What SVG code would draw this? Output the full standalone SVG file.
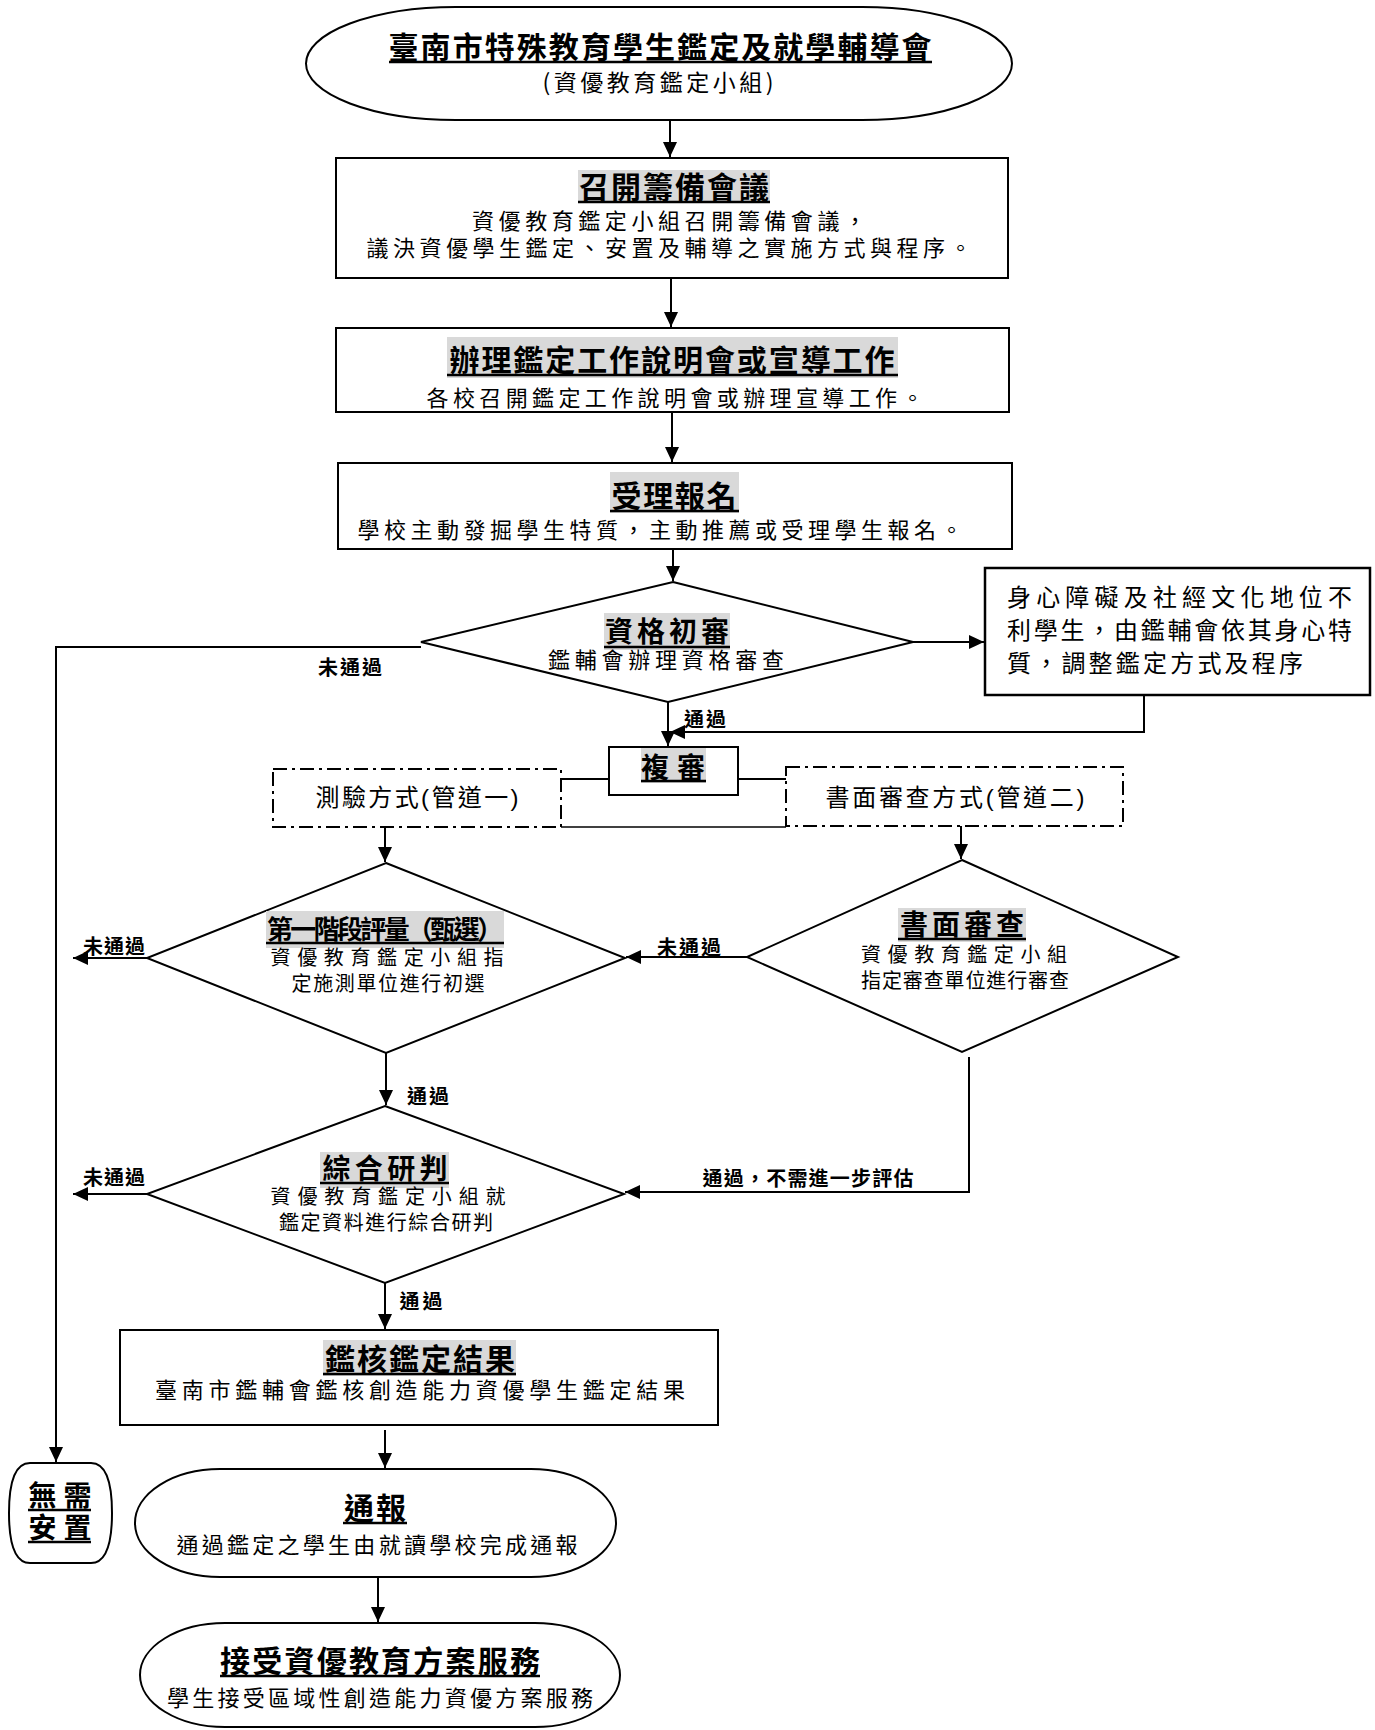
<svg xmlns="http://www.w3.org/2000/svg" width="1375" height="1730" viewBox="0 0 1375 1730">
<style>
.shape{fill:#fff;stroke:#000;stroke-width:2}
.dash{fill:none;stroke:#000;stroke-width:2;stroke-dasharray:14 5 3 5}
.ln{fill:none;stroke:#000;stroke-width:2}
.ul{stroke:#000;stroke-width:2.5}
.bg{fill:#d9d9d9}
text{font-family:"Noto Sans CJK TC","Noto Sans CJK SC",sans-serif;fill:#000;text-anchor:middle}
.h{font-weight:700}
.b{font-weight:400;font-size:22px}
.d{font-weight:400;font-size:20px}
.lb{font-weight:700;font-size:20px}
.s{font-family:"Liberation Sans","Noto Sans CJK TC",sans-serif;font-size:24px}
</style>
<defs>
<marker id="ar" markerUnits="userSpaceOnUse" markerWidth="16" markerHeight="16" refX="15" refY="8" orient="auto">
<path d="M0,1 L15,8 L0,15 z" fill="#000"/>
</marker>
</defs>
<rect width="1375" height="1730" fill="#fff"/>

<g id="connectors">
<path class="ln" d="M670,120 V157" marker-end="url(#ar)"/>
<path class="ln" d="M671,278 V327" marker-end="url(#ar)"/>
<path class="ln" d="M672,412 V462" marker-end="url(#ar)"/>
<path class="ln" d="M673,549 V581" marker-end="url(#ar)"/>
<path class="ln" d="M421,647 H56 V1462" marker-end="url(#ar)"/>
<path class="ln" d="M913,642 H984" marker-end="url(#ar)"/>
<path class="ln" d="M1144,695 V732 H670" marker-end="url(#ar)"/>
<path class="ln" d="M668,702 V746" marker-end="url(#ar)"/>
<path class="ln" d="M561,779 H609"/>
<path class="ln" d="M738,779 H786"/>
<path d="M561,827 H786" fill="none" stroke="#000" stroke-width="1.5"/>
<path class="ln" d="M385,827 V862" marker-end="url(#ar)"/>
<path class="ln" d="M961,826 V859" marker-end="url(#ar)"/>
<path class="ln" d="M147,958 H73" marker-end="url(#ar)"/>
<path class="ln" d="M747,957 H626" marker-end="url(#ar)"/>
<path class="ln" d="M386,1053 V1105" marker-end="url(#ar)"/>
<path class="ln" d="M969,1057 V1192 H625" marker-end="url(#ar)"/>
<path class="ln" d="M147,1194 H73" marker-end="url(#ar)"/>
<path class="ln" d="M385,1283 V1329" marker-end="url(#ar)"/>
<path class="ln" d="M385,1430 V1468" marker-end="url(#ar)"/>
<path class="ln" d="M378,1577 V1622" marker-end="url(#ar)"/>
<text class="lb" x="350" y="675" textLength="64">未通過</text>
<text class="lb" x="705" y="727" textLength="42">通過</text>
<text class="lb" x="114" y="954" textLength="62">未通過</text>
<text class="lb" x="689" y="955" textLength="64">未通過</text>
<text class="lb" x="428" y="1104" textLength="42">通過</text>
<text class="lb" x="114" y="1185" textLength="62">未通過</text>
<text class="lb" x="808" y="1186" textLength="211">通過，不需進一步評估</text>
<text class="lb" x="421" y="1309" textLength="43">通過</text>
</g>

<g id="n-start">
<rect class="shape" x="306" y="7" width="706" height="113" rx="150" ry="56.5"/>
<text class="h" x="660" y="58" font-size="30" textLength="543">臺南市特殊教育學生鑑定及就學輔導會</text>
<line class="ul" x1="389" y1="62" x2="932" y2="62"/>
<text x="658" y="91" font-size="23" textLength="231">(資優教育鑑定小組)</text>
</g>

<g id="n-meeting">
<rect class="shape" x="336" y="158" width="672" height="120"/>
<rect class="bg" x="578" y="170" width="192" height="33"/>
<text class="h" x="674" y="198" font-size="30" textLength="190">召開籌備會議</text>
<line class="ul" x1="578" y1="202" x2="770" y2="202"/>
<text class="b" x="669" y="229" textLength="394">資優教育鑑定小組召開籌備會議，</text>
<text class="b" x="669" y="256" textLength="605">議決資優學生鑑定、安置及輔導之實施方式與程序。</text>
</g>

<g id="n-briefing">
<rect class="shape" x="336" y="328" width="673" height="84"/>
<rect class="bg" x="447" y="337" width="451" height="41"/>
<text class="h" x="672" y="371" font-size="30" textLength="445">辦理鑑定工作說明會或宣導工作</text>
<line class="ul" x1="447" y1="375" x2="898" y2="375"/>
<text class="b" x="675" y="406" textLength="497">各校召開鑑定工作說明會或辦理宣導工作。</text>
</g>

<g id="n-register">
<rect class="shape" x="338" y="463" width="674" height="86"/>
<rect class="bg" x="610" y="472" width="129" height="41"/>
<text class="h" x="674" y="507" font-size="30" textLength="125">受理報名</text>
<line class="ul" x1="610" y1="511" x2="739" y2="511"/>
<text class="b" x="660" y="538" textLength="605">學校主動發掘學生特質，主動推薦或受理學生報名。</text>
</g>

<g id="n-qualify">
<polygon class="shape" points="673,582 913,642 668,702 421,642"/>
<rect class="bg" x="604" y="613" width="126" height="37"/>
<text class="h" x="667" y="642" font-size="28" textLength="124">資格初審</text>
<line class="ul" x1="604" y1="647" x2="730" y2="647"/>
<text class="b" x="666" y="668" textLength="236">鑑輔會辦理資格審查</text>
</g>

<g id="n-special">
<rect x="985" y="568" width="385" height="127" fill="#fff" stroke="#000" stroke-width="2.5"/>
<text x="1007" y="606" font-size="24" style="text-anchor:start" textLength="345">身心障礙及社經文化地位不</text>
<text x="1007" y="639" font-size="24" style="text-anchor:start" textLength="345">利學生，由鑑輔會依其身心特</text>
<text x="1007" y="672" font-size="24" style="text-anchor:start" textLength="296">質，調整鑑定方式及程序</text>
</g>

<g id="n-review">
<rect class="shape" x="609" y="747" width="129" height="48"/>
<rect class="bg" x="641" y="748" width="65" height="35"/>
<text class="h" x="673" y="778" font-size="28" textLength="64">複審</text>
<line class="ul" x1="641" y1="781" x2="706" y2="781"/>
</g>

<g id="n-path1">
<rect class="dash" x="273" y="769" width="288" height="58"/>
<text class="s" x="417" y="806" textLength="203">測驗方式(管道一)</text>
</g>

<g id="n-path2">
<rect class="dash" x="786" y="767" width="337" height="59"/>
<text class="s" x="955" y="806" textLength="259">書面審查方式(管道二)</text>
</g>

<g id="n-stage1">
<polygon class="shape" points="386,863 625,958 386,1053 147,958"/>
<rect class="bg" x="266" y="911" width="238" height="37"/>
<text class="h" x="385" y="939" font-size="26" textLength="236">第一階段評量（甄選）</text>
<line class="ul" x1="266" y1="943" x2="504" y2="943"/>
<text class="d" x="387" y="965" textLength="233">資優教育鑑定小組指</text>
<text class="d" x="388" y="991" textLength="193">定施測單位進行初選</text>
</g>

<g id="n-docreview">
<polygon class="shape" points="962,860 1178,957 962,1052 747,957"/>
<rect class="bg" x="898" y="908" width="128" height="34"/>
<text class="h" x="962" y="935" font-size="28" textLength="124">書面審查</text>
<line class="ul" x1="898" y1="939" x2="1026" y2="939"/>
<text class="d" x="964" y="962" textLength="206">資優教育鑑定小組</text>
<text class="d" x="965" y="988" textLength="208">指定審查單位進行審查</text>
</g>

<g id="n-judge">
<polygon class="shape" points="385,1106 624,1194 385,1283 147,1194"/>
<rect class="bg" x="320" y="1152" width="129" height="36"/>
<text class="h" x="385" y="1179" font-size="28" textLength="125">綜合研判</text>
<line class="ul" x1="320" y1="1183" x2="449" y2="1183"/>
<text class="d" x="388" y="1204" textLength="235">資優教育鑑定小組就</text>
<text class="d" x="386" y="1230" textLength="214">鑑定資料進行綜合研判</text>
</g>

<g id="n-result">
<rect class="shape" x="120" y="1330" width="598" height="95"/>
<rect class="bg" x="323" y="1340" width="193" height="36"/>
<text class="h" x="420" y="1370" font-size="30" textLength="190">鑑核鑑定結果</text>
<line class="ul" x1="323" y1="1374" x2="516" y2="1374"/>
<text class="b" x="420" y="1398" textLength="530">臺南市鑑輔會鑑核創造能力資優學生鑑定結果</text>
</g>

<g id="n-none">
<path class="shape" d="M30,1463 H91 Q112,1463 112,1513 Q112,1563 91,1563 H30 Q9,1563 9,1513 Q9,1463 30,1463 Z"/>
<text class="h" x="60" y="1506" font-size="28" textLength="63">無需</text>
<line class="ul" x1="28" y1="1510" x2="91" y2="1510"/>
<text class="h" x="60" y="1538" font-size="28" textLength="63">安置</text>
<line class="ul" x1="28" y1="1542" x2="91" y2="1542"/>
</g>

<g id="n-notify">
<rect class="shape" x="135" y="1469" width="481" height="108" rx="85" ry="54"/>
<text class="h" x="375" y="1519" font-size="30" textLength="62">通報</text>
<line class="ul" x1="343" y1="1523" x2="407" y2="1523"/>
<text class="b" x="377" y="1553" textLength="401">通過鑑定之學生由就讀學校完成通報</text>
</g>

<g id="n-service">
<rect class="shape" x="140" y="1623" width="480" height="104" rx="85" ry="52"/>
<text class="h" x="380" y="1672" font-size="30" textLength="320">接受資優教育方案服務</text>
<line class="ul" x1="220" y1="1676" x2="540" y2="1676"/>
<text class="b" x="380" y="1706" textLength="426">學生接受區域性創造能力資優方案服務</text>
</g>
</svg>
